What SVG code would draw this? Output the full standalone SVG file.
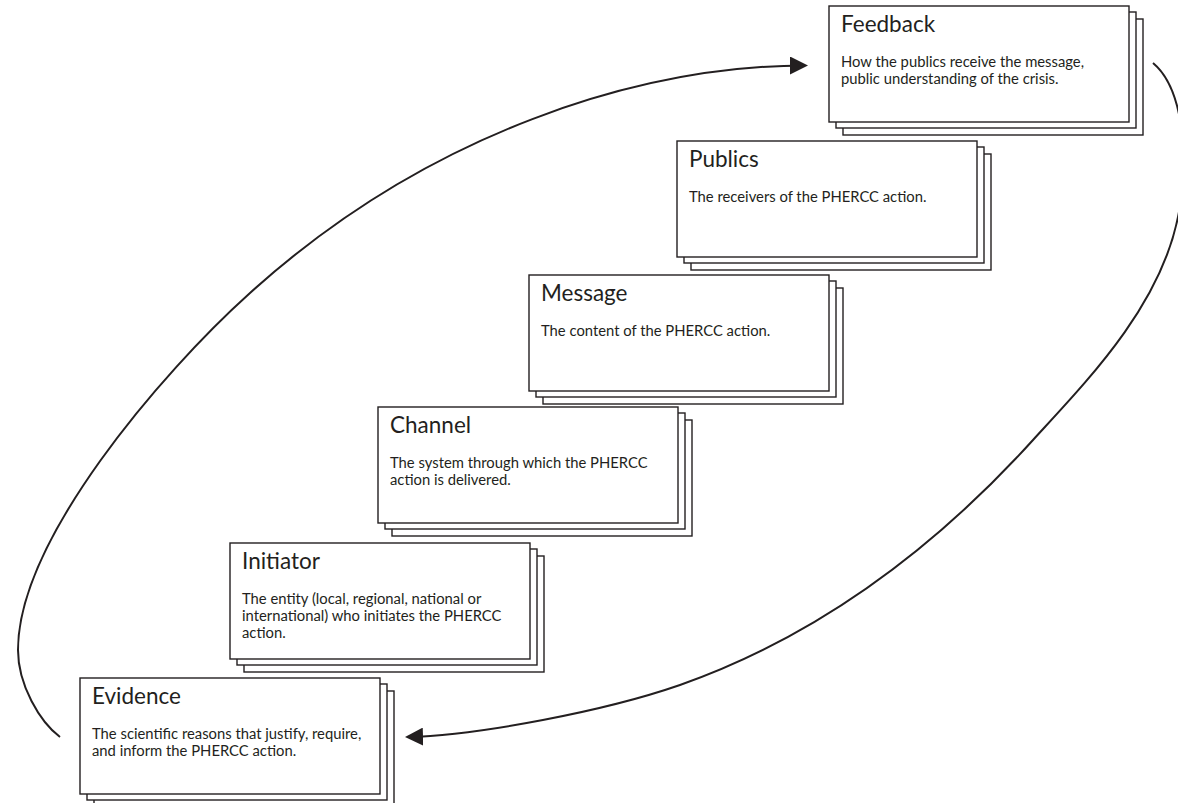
<svg xmlns="http://www.w3.org/2000/svg" width="1178" height="803" viewBox="0 0 1178 803">
<style>
.card{fill:#ffffff;stroke:#231f20;stroke-width:1.4}
.title{font-family:Lato,"Open Sans",sans-serif;font-size:22.5px;fill:#231f20}
.body{font-family:Lato,"Open Sans",sans-serif;font-size:14.8px;fill:#231f20}
.flow{fill:none;stroke:#231f20;stroke-width:2}
</style>
<defs>
<marker id="arrow" markerUnits="userSpaceOnUse" markerWidth="18" markerHeight="18" viewBox="0 0 18 18" refX="15" refY="9" orient="auto">
<path d="M0,0 L18,9 L0,18 z" fill="#231f20"/>
</marker>
<g id="stack">
<rect class="card" x="14" y="13" width="300" height="116"/>
<rect class="card" x="7" y="6" width="300" height="116"/>
<rect class="card" x="0" y="0" width="300" height="116"/>
</g>
</defs>
<rect width="1178" height="803" fill="#ffffff"/>
<g id="connectors">
<path class="flow" marker-end="url(#arrow)" d="M 60 737 C 40 722, 18 685, 18 650 C 18 540, 161 373, 250 293 C 428 132, 640 66, 805 65.5"/>
<path class="flow" marker-end="url(#arrow)" d="M 1153 63 C 1183 88, 1190 157, 1178 217 C 1160 307, 1087 381, 1033 440 C 946 536, 830 632, 680 685 C 605 711, 480 735, 408 737"/>
</g>
<g id="feedback" transform="translate(829,6)">
<use href="#stack"/>
<text class="title" x="12" y="26">Feedback</text>
<text class="body" x="12" y="61">How the publics receive the message,</text>
<text class="body" x="12" y="78">public understanding of the crisis.</text>
</g>
<g id="publics" transform="translate(677,141)">
<use href="#stack"/>
<text class="title" x="12" y="26">Publics</text>
<text class="body" x="12" y="61">The receivers of the PHERCC action.</text>
</g>
<g id="message" transform="translate(529,275)">
<use href="#stack"/>
<text class="title" x="12" y="26">Message</text>
<text class="body" x="12" y="61">The content of the PHERCC action.</text>
</g>
<g id="channel" transform="translate(378,407)">
<use href="#stack"/>
<text class="title" x="12" y="26">Channel</text>
<text class="body" x="12" y="61">The system through which the PHERCC</text>
<text class="body" x="12" y="78">action is delivered.</text>
</g>
<g id="initiator" transform="translate(230,543)">
<use href="#stack"/>
<text class="title" x="12" y="26">Initiator</text>
<text class="body" x="12" y="61">The entity (local, regional, national or</text>
<text class="body" x="12" y="78">international) who initiates the PHERCC</text>
<text class="body" x="12" y="95">action.</text>
</g>
<g id="evidence" transform="translate(80,678)">
<use href="#stack"/>
<text class="title" x="12" y="26">Evidence</text>
<text class="body" x="12" y="61">The scientific reasons that justify, require,</text>
<text class="body" x="12" y="78">and inform the PHERCC action.</text>
</g>
</svg>
